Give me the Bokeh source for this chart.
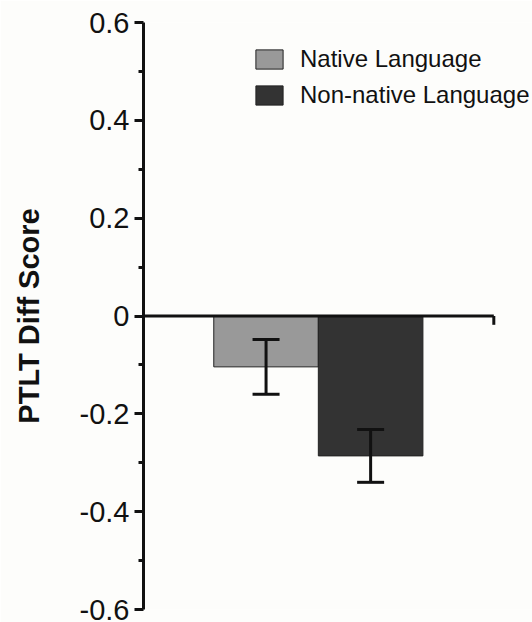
from bokeh.plotting import figure
from bokeh.models import ColumnDataSource, Range1d, FixedTicker, Whisker, TeeHead, Legend, LegendItem
from bokeh.embed import file_html
from bokeh.resources import INLINE

# ---- data ----
groups = ["Native Language", "Non-native Language"]
means = [-0.104, -0.286]
errors = [0.056, 0.054]
colors = ["#999999", "#333333"]
tick_values = [-0.6, -0.4, -0.2, 0.0, 0.2, 0.4, 0.6]
tick_labels = ["-0.6", "-0.4", "-0.2", "0", "0.2", "0.4", "0.6"]
minor_values = [-0.5, -0.3, -0.1, 0.1, 0.3, 0.5]
y_label = "PTLT Diff Score"

# ---- layout helpers ----
offset = 1.172
xs = [i + offset for i in range(len(groups))]
axis_end = 3.35
x_end = 3.72

src = ColumnDataSource(dict(
    x=xs, top=means, group=groups, color=colors,
    upper=[m + e for m, e in zip(means, errors)],
    lower=[m - e for m, e in zip(means, errors)],
))

p = figure(width=532, height=622, output_backend="svg", toolbar_location=None,
           x_range=Range1d(0, x_end), y_range=Range1d(-0.6, 0.6),
           x_axis_location=None, min_border_left=143, min_border_right=0,
           min_border_top=22, min_border_bottom=13,
           background_fill_color="#fdfdfb", border_fill_color="#fdfdfb")
p.outline_line_color = None
p.grid.visible = False

r = p.vbar(x="x", top="top", bottom=0, width=1.0, source=src,
           fill_color="color", line_color="#222222", line_width=1)

w = Whisker(base="x", upper="upper", lower="lower", source=src,
            line_color="#111111", line_width=3, level="annotation",
            upper_head=TeeHead(size=27, line_width=3, line_color="#111111"),
            lower_head=TeeHead(size=27, line_width=3, line_color="#111111"))
p.add_layout(w)

# zero line acting as horizontal axis, with end tick
p.segment(x0=[0], y0=[0], x1=[axis_end], y1=[0], line_color="#111111", line_width=3)
p.segment(x0=[axis_end], y0=[0], x1=[axis_end], y1=[-0.018], line_color="#111111", line_width=3)

yax = p.yaxis[0]
yax.ticker = FixedTicker(ticks=tick_values, minor_ticks=minor_values)
yax.major_label_overrides = {v: l for v, l in zip(tick_values, tick_labels)}
yax.axis_line_width = 3
yax.axis_line_color = "#111111"
yax.major_tick_line_width = 3
yax.major_tick_line_color = "#111111"
yax.major_tick_out = 9
yax.major_tick_in = 0
yax.minor_tick_line_width = 3
yax.minor_tick_line_color = "#111111"
yax.minor_tick_out = 5
yax.minor_tick_in = 0
yax.major_label_text_font = "Liberation Sans"
yax.major_label_text_font_size = "29px"
yax.major_label_text_color = "#111111"
yax.major_label_standoff = 5
yax.axis_label = y_label
yax.axis_label_text_font = "Liberation Sans"
yax.axis_label_text_font_style = "bold"
yax.axis_label_text_font_size = "29px"
yax.axis_label_text_color = "#111111"
yax.axis_label_standoff = 32

items = [LegendItem(label=g, renderers=[r], index=i) for i, g in enumerate(groups)]
legend = Legend(items=items, location=(109, 500), glyph_width=34, glyph_height=24,
                label_standoff=14, label_text_font="Liberation Sans",
                label_text_font_size="24px", label_height=24, label_text_line_height=1.0,
                spacing=8, padding=0, margin=0, border_line_color=None,
                background_fill_alpha=0, label_text_color="#111111")
p.add_layout(legend)

open("out.html", "w").write(file_html(p, INLINE))
